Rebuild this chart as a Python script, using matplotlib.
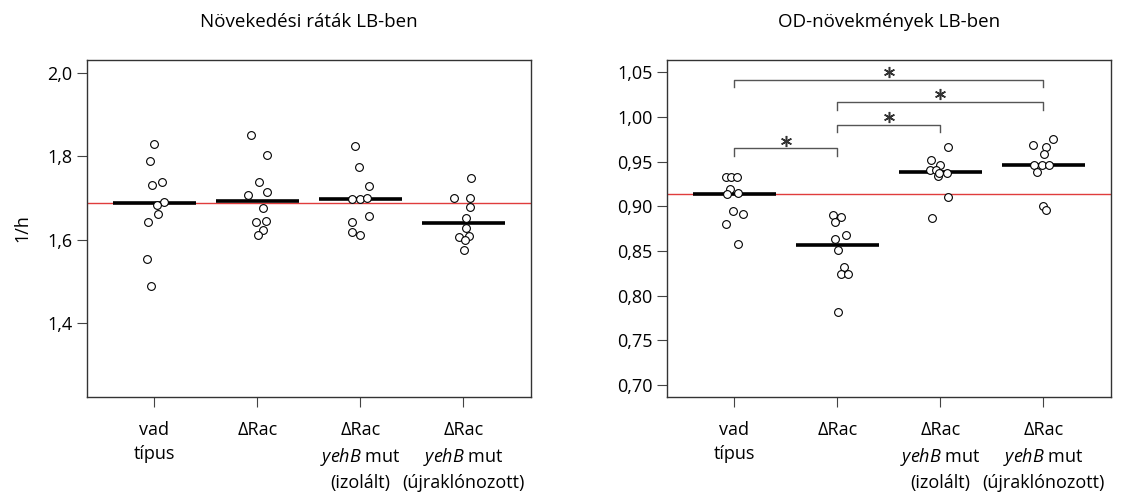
import numpy as np
import matplotlib.pyplot as plt

plt.rcParams['font.family'] = ['Open Sans', 'DejaVu Sans']
plt.rcParams['mathtext.fontset'] = 'custom'
plt.rcParams['mathtext.rm'] = 'Open Sans'
plt.rcParams['mathtext.it'] = 'Open Sans:italic'

groups = ['vad\ntípus', 'ΔRac', 'ΔRac\n$yehB$ mut\n(izolált)',
          'ΔRac\n$yehB$ mut\n(újraklónozott)']

# growth rates (1/h), per strain
rate_vals = [
    [1.830, 1.787, 1.731, 1.737, 1.691, 1.683, 1.661, 1.643, 1.553, 1.490],
    [1.850, 1.803, 1.737, 1.713, 1.707, 1.675, 1.641, 1.645, 1.622, 1.611],
    [1.825, 1.774, 1.728, 1.696, 1.697, 1.699, 1.657, 1.642, 1.618, 1.610],
    [1.747, 1.699, 1.699, 1.678, 1.652, 1.627, 1.606, 1.609, 1.598, 1.576],
]
rate_jit = [
    [-0.003, -0.039, -0.019, 0.074, 0.097, 0.023, 0.032, -0.065, -0.071, -0.032],
    [-0.061, 0.097, 0.016, 0.097, -0.087, 0.052, -0.016, 0.081, 0.058, 0.003],
    [-0.049, -0.016, 0.084, -0.081, -0.006, 0.065, 0.084, -0.084, -0.078, -0.003],
    [0.071, -0.094, 0.061, 0.061, 0.029, 0.029, -0.045, 0.055, 0.019, 0.003],
]
rate_med = [1.687, 1.6915, 1.697, 1.640]
rate_ref = 1.687

# OD increments
od_vals = [
    [0.9333, 0.9333, 0.9333, 0.919, 0.9135, 0.915, 0.895, 0.8918, 0.8806, 0.8578],
    [0.8907, 0.888, 0.882, 0.868, 0.863, 0.8515, 0.8316, 0.8245, 0.8238, 0.7812],
    [0.9666, 0.9516, 0.9467, 0.9404, 0.9404, 0.9378, 0.9336, 0.937, 0.910, 0.8866],
    [0.975, 0.9688, 0.9666, 0.9583, 0.946, 0.946, 0.946, 0.9389, 0.9008, 0.8963],
]
od_jit = [
    [-0.081, -0.029, 0.029, -0.039, -0.071, 0.036, -0.013, 0.081, -0.084, 0.039],
    [-0.039, 0.032, -0.026, 0.084, -0.023, 0.010, 0.068, 0.032, 0.100, 0.006],
    [0.071, -0.094, 0.0, -0.100, -0.045, 0.061, -0.023, -0.013, 0.078, -0.081],
    [0.094, -0.100, 0.023, 0.006, -0.087, -0.016, 0.058, -0.061, -0.003, 0.026],
]
od_med = [0.9142, 0.857, 0.9389, 0.946]
od_ref = 0.9142

# significance brackets: (from, to, height, leg bottom)
sig = [(1, 4, 1.0421, 1.0336), (2, 4, 1.0171, 1.008),
       (2, 3, 0.9913, 0.9837), (1, 2, 0.965, 0.9568)]


def draw_panel(ax, vals, jit, med, ref):
    x = np.arange(1, len(vals) + 1)
    ax.axhline(ref, color='#e03c3c', lw=1.0, zorder=1)
    for i, (v, j) in enumerate(zip(vals, jit)):
        ax.plot(x[i] + np.array(j), v, 'o', ms=5.6, mfc='white', mec='black',
                mew=0.8, zorder=3)
        ax.plot([x[i] - 0.4, x[i] + 0.4], [med[i], med[i]], color='black',
                lw=2.6, solid_capstyle='butt', zorder=2)
    ax.set_xlim(0.345, 4.657)
    ax.set_xticks(x)
    ax.set_xticklabels(groups, fontsize=13, linespacing=1.45)
    ax.tick_params(axis='both', length=7, color='#444444', labelsize=13)
    ax.tick_params(axis='x', pad=10)
    for s in ax.spines.values():
        s.set_color('#333333')
        s.set_linewidth(1.0)


fig = plt.figure(figsize=(11.28, 4.95), dpi=100)
ax0 = fig.add_axes([87 / 1128, 1 - 397 / 495, 444 / 1128, 337 / 495])
ax1 = fig.add_axes([667 / 1128, 1 - 397 / 495, 444 / 1128, 337 / 495])

draw_panel(ax0, rate_vals, rate_jit, rate_med, rate_ref)
ax0.set_ylim(1.223, 2.03)
ax0.set_yticks([1.4, 1.6, 1.8, 2.0])
ax0.set_yticklabels(['1,4', '1,6', '1,8', '2,0'])
ax0.set_ylabel('1/h', fontsize=13, labelpad=11)
ax0.set_title('Növekedési ráták LB-ben', fontsize=13.5, pad=24)

draw_panel(ax1, od_vals, od_jit, od_med, od_ref)
ax1.set_ylim(0.6865, 1.064)
yt = [0.70, 0.75, 0.80, 0.85, 0.90, 0.95, 1.00, 1.05]
ax1.set_yticks(yt)
ax1.set_yticklabels([('%.2f' % t).replace('.', ',') for t in yt])
ax1.set_title('OD-növekmények LB-ben', fontsize=13.5, pad=24)

for a, b, top, bot in sig:
    ax1.plot([a, a, b, b], [bot, top, top, bot], color='#555555', lw=1.0,
             zorder=2)
    ax1.plot((a + b) / 2, top + 0.0088, marker=(6, 2, 0), ms=8, mew=1.1,
             color='#333333', zorder=2)

fig.savefig('out.png', dpi=100)
